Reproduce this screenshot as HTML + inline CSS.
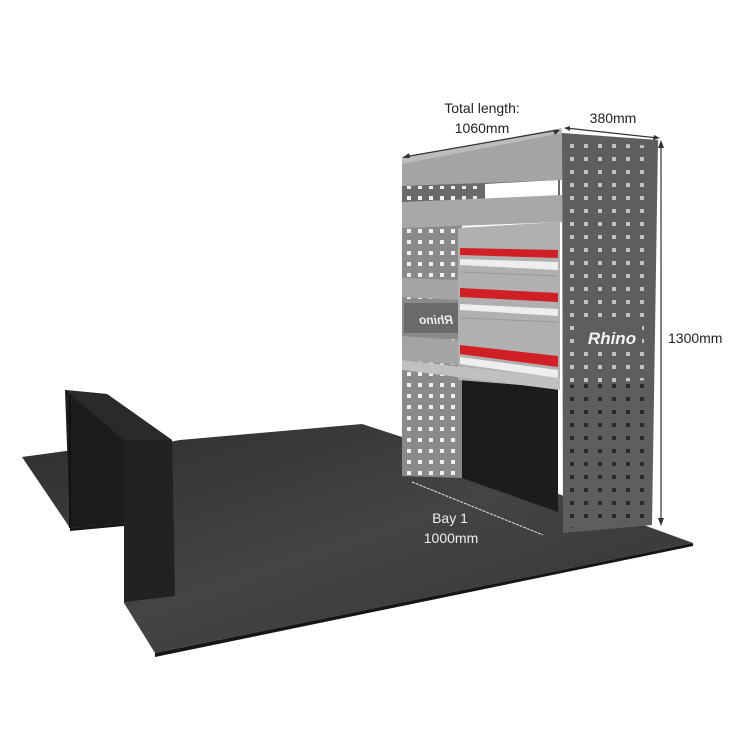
<!DOCTYPE html>
<html><head><meta charset="utf-8"><style>
html,body{margin:0;padding:0;background:#fff}
svg{display:block}
text{font-family:"Liberation Sans",sans-serif}
</style></head><body>
<svg width="750" height="750" viewBox="0 0 750 750" xmlns="http://www.w3.org/2000/svg">
<defs>
<linearGradient id="fl" x1="0" y1="0" x2="1" y2="1">
<stop offset="0" stop-color="#2e2e2e"/><stop offset="0.5" stop-color="#444"/><stop offset="1" stop-color="#333"/>
</linearGradient>
<pattern id="dots" x="566" y="140" width="14" height="13" patternUnits="userSpaceOnUse">
<rect x="4" y="4" width="4" height="4" fill="#dcdcdc"/>
</pattern>
<pattern id="dots2" x="566" y="380" width="14" height="13" patternUnits="userSpaceOnUse">
<rect x="4" y="4" width="4" height="4" fill="#2a2a2a"/>
</pattern>
<pattern id="dl" x="404" y="160" width="11" height="11" patternUnits="userSpaceOnUse">
<rect x="3" y="3" width="4" height="4" fill="#f0f0f0"/>
</pattern>
</defs>
<!-- floor -->
<polygon points="22,457 66,451 124,450 180,440 362,424 402,437 693,543 155,653 124,603 124,523 70,528" fill="url(#fl)"/>
<polygon points="155,653 693,543 693,546 155,657" fill="#161616"/>
<polygon points="70,528 124,523 124,526 70,531" fill="#161616"/>
<!-- block -->
<polygon points="65,390 107,394 172,440 175,596 124,602 124,523 70,528" fill="#1c1c1c"/>
<polygon points="65,390 107,394 172,440 124,440" fill="#2a2a2a"/>
<polygon points="124,440 172,440 175,596 124,602" fill="#222"/>
<line x1="70" y1="395" x2="70" y2="528" stroke="#111" stroke-width="2"/>
<!-- shelf: left upright -->
<polygon points="402,160 462,152 462,478 402,476" fill="#8a8a8a"/>
<rect x="404" y="225" width="54" height="250" fill="url(#dl)"/>
<!-- upper back gap -->
<polygon points="402,185 560,178 560,200 402,202" fill="#6a6a6a"/>
<rect x="406" y="186" width="76" height="14" fill="url(#dl)"/>
<polygon points="485,184 558,180 558,198 485,200" fill="#fff"/>
<!-- top beam -->
<polygon points="402,160 562,130 562,180 402,186" fill="#a4a4a4"/>
<polygon points="402,158 562,128 562,133 402,164" fill="#bcbcbc"/>
<!-- second shelf -->
<polygon points="402,202 562,195 562,222 402,228" fill="#a8a8a8"/>
<!-- black interior -->
<polygon points="462,380 558,388 558,512 462,478" fill="#1c1c1c"/>
<!-- drawers -->
<polygon points="458,228 560,222 560,388 458,380" fill="#b0b0b0"/>
<polygon points="460,248 558,250 558,258 460,255" fill="#d11f26"/>
<polygon points="460,259 558,262 558,270 460,265" fill="#eee"/>
<polygon points="460,288 558,293 558,302 460,297" fill="#d11f26"/>
<polygon points="460,304 558,309 558,316 460,310" fill="#eee"/>
<polygon points="460,345 558,356 558,367 460,354" fill="#d11f26"/>
<polygon points="460,357 558,370 558,378 460,364" fill="#eee"/>
<line x1="460" y1="272" x2="558" y2="276" stroke="#999" stroke-width="1"/>
<line x1="460" y1="318" x2="558" y2="322" stroke="#999" stroke-width="1"/>
<!-- left shelves -->
<polygon points="402,278 458,280 458,300 402,297" fill="#a4a4a4"/>
<polygon points="402,336 458,340 458,365 402,360" fill="#a4a4a4"/>
<polygon points="402,360 560,378 560,390 402,370" fill="#c0c0c0"/>
<rect x="404" y="303" width="54" height="30" fill="#6a6a6a"/>
<text x="436" y="324" font-size="12" font-weight="bold" font-style="italic" fill="#eee" text-anchor="middle" transform="scale(-1,1) translate(-872,0)">Rhino</text>
<!-- end panel -->
<polygon points="562,133 658,140 652,525 563,533" fill="#5e5e5e"/>
<polygon points="566,140 654,146 650,380 566,385" fill="url(#dots)" opacity="0.8"/>
<polygon points="566,385 650,380 648,520 566,528" fill="url(#dots2)"/>
<rect x="580" y="326" width="62" height="22" fill="#5e5e5e"/>
<text x="612" y="344" font-size="17" font-weight="bold" font-style="italic" fill="#f2f2f2" text-anchor="middle">Rhino</text>
<!-- dimension lines -->
<g stroke="#333" stroke-width="1.2" fill="none">
<line x1="404" y1="157" x2="558" y2="130"/>
<line x1="566" y1="128" x2="658" y2="138"/>
<line x1="661" y1="142" x2="661" y2="524"/>
</g>
<g fill="#333">
<polygon points="402,158 409,153 410,158"/><polygon points="560,130 553,130 555,135"/>
<polygon points="564,128 570,126 570,131"/><polygon points="660,138 654,135 653,140"/>
<polygon points="661,140 658,148 664,148"/><polygon points="661,526 658,518 664,518"/>
</g>
<line x1="412" y1="482" x2="543" y2="535" stroke="#ddd" stroke-width="1" stroke-dasharray="3,1"/>
<text x="482" y="113" font-size="14" fill="#222" text-anchor="middle">Total length:</text>
<text x="482" y="133" font-size="14" fill="#222" text-anchor="middle">1060mm</text>
<text x="613" y="123" font-size="14" fill="#222" text-anchor="middle">380mm</text>
<text x="668" y="343" font-size="14" fill="#222">1300mm</text>
<text x="450" y="523" font-size="14" fill="#eee" text-anchor="middle">Bay 1</text>
<text x="451" y="543" font-size="14" fill="#eee" text-anchor="middle">1000mm</text>
</svg>
</body></html>
